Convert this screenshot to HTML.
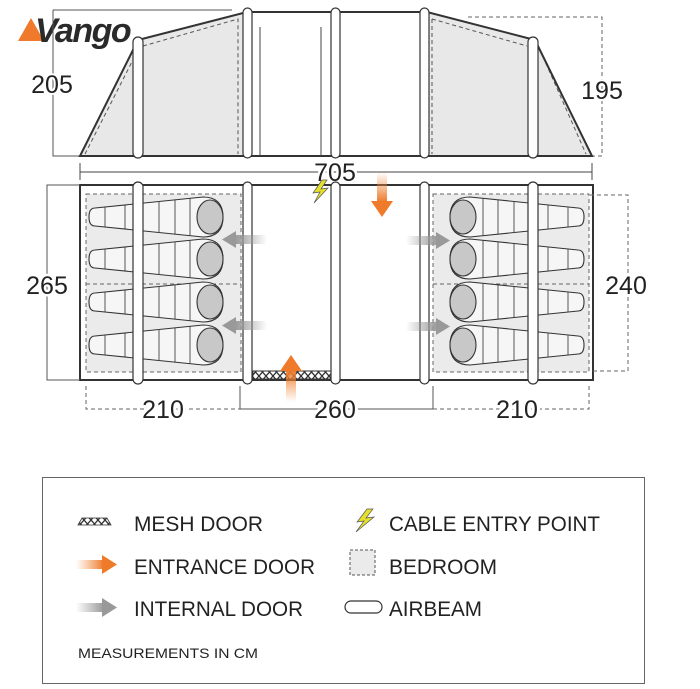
<!DOCTYPE html>
<html><head><meta charset="utf-8"><style>
html,body{margin:0;padding:0;background:#fff;}
svg{display:block;}
text{font-family:"Liberation Sans",sans-serif;fill:#222;}
</style></head><body>
<svg width="700" height="689" viewBox="0 0 700 689" xmlns="http://www.w3.org/2000/svg">
<defs>
<linearGradient id="og" x1="0" y1="0" x2="0" y2="1"><stop offset="0" stop-color="#f08a3c" stop-opacity="0"/><stop offset="1" stop-color="#ee7a2a"/></linearGradient>
<linearGradient id="ogu" x1="0" y1="1" x2="0" y2="0"><stop offset="0" stop-color="#f08a3c" stop-opacity="0"/><stop offset="1" stop-color="#ee7a2a"/></linearGradient>
<linearGradient id="ogr" x1="0" y1="0" x2="1" y2="0"><stop offset="0" stop-color="#f08a3c" stop-opacity="0"/><stop offset="1" stop-color="#ee7a2a"/></linearGradient>
<linearGradient id="gl" x1="1" y1="0" x2="0" y2="0"><stop offset="0" stop-color="#999" stop-opacity="0"/><stop offset="1" stop-color="#999"/></linearGradient>
<linearGradient id="gr" x1="0" y1="0" x2="1" y2="0"><stop offset="0" stop-color="#999" stop-opacity="0"/><stop offset="1" stop-color="#999"/></linearGradient>
<pattern id="mesh" width="7" height="8" patternUnits="userSpaceOnUse"><rect width="7" height="8" fill="#fff"/><path d="M0 0 L7 8 M7 0 L0 8" stroke="#333" stroke-width="1.3"/></pattern>
<g id="bagL">
<path d="M0 -9 Q-6 -9 -6 0 Q-6 9 0 9 L108 20 Q128 20 128 0 Q128 -20 108 -20 Z" fill="#f6f6f6" stroke="#333" stroke-width="1.1"/>
<path d="M10 -10V10 M30 -12V12 M48 -14V14 M64 -16V16 M80 -17V17 M95 -19V19" stroke="#444" stroke-width="0.9"/>
<ellipse cx="115" cy="0" rx="13" ry="17" fill="#c8c8c8" stroke="#333" stroke-width="1.1"/>
</g>
</defs>

<!-- logo -->
<polygon points="18,41 31,18 44,41" fill="#ef7a2b"/>
<text x="35" y="42" font-size="34" font-weight="bold" font-style="italic" style="fill:#2a2a2a;letter-spacing:-1.5px">Vango</text>

<!-- side view -->
<path d="M53 10 H232 M53 10 V156 H80" stroke="#555" stroke-width="1" fill="none"/>
<path d="M468 17 H602 V156 H592" stroke="#666" stroke-width="1" stroke-dasharray="4,3" fill="none"/>
<polygon points="80,156 138,40 247,12 247,156" fill="#e8e8e8"/>
<polygon points="427,12 535,40 592,156 427,156" fill="#e8e8e8"/>
<rect x="252" y="12" width="170" height="144" fill="#fff"/>
<path d="M85 154 L138 50 M143 46 L238 19 V154 M432 19 L527 46 M540 50 L586 154 M432 19 V154" stroke="#555" stroke-dasharray="4,3" fill="none"/>
<path d="M80 156 L138 40 L247 12 H427 L535 40 L592 156 Z" fill="none" stroke="#333" stroke-width="2"/>
<path d="M260 27 V156 M321 27 V156" stroke="#444" stroke-width="1"/>
<g fill="#fff" stroke="#333" stroke-width="1.2">
<rect x="133" y="37" width="10" height="121" rx="5"/>
<rect x="243" y="8" width="9" height="150" rx="4.5"/>
<rect x="331" y="8" width="9" height="150" rx="4.5"/>
<rect x="420" y="8" width="9" height="150" rx="4.5"/>
<rect x="528" y="37" width="10" height="121" rx="5"/>
</g>
<text x="52" y="93" font-size="25" text-anchor="middle" style="paint-order:stroke;stroke:#fff;stroke-width:4">205</text>
<text x="602" y="99" font-size="25" text-anchor="middle" style="paint-order:stroke;stroke:#fff;stroke-width:4">195</text>

<!-- 705 -->
<path d="M80 163 V180 M592 163 V180 M80 172 H592" stroke="#444" stroke-width="1"/>
<text x="335" y="181" font-size="25" text-anchor="middle" style="paint-order:stroke;stroke:#fff;stroke-width:5">705</text>

<!-- plan view -->
<rect x="80" y="185" width="513" height="195" fill="#fff" stroke="#333" stroke-width="2"/>
<rect x="86" y="194" width="155" height="178" fill="#ebebeb" stroke="#666" stroke-dasharray="4,3"/>
<line x1="86" y1="284" x2="241" y2="284" stroke="#666" stroke-dasharray="4,3"/>
<rect x="433" y="194" width="156" height="178" fill="#ebebeb" stroke="#666" stroke-dasharray="4,3"/>
<line x1="433" y1="284" x2="589" y2="284" stroke="#666" stroke-dasharray="4,3"/>
<g transform="translate(95,217)"><use href="#bagL"/></g>
<g transform="translate(95,259)"><use href="#bagL"/></g>
<g transform="translate(95,302)"><use href="#bagL"/></g>
<g transform="translate(95,345)"><use href="#bagL"/></g>
<g transform="translate(578,217) scale(-1,1)"><use href="#bagL"/></g>
<g transform="translate(578,259) scale(-1,1)"><use href="#bagL"/></g>
<g transform="translate(578,302) scale(-1,1)"><use href="#bagL"/></g>
<g transform="translate(578,345) scale(-1,1)"><use href="#bagL"/></g>
<rect x="253" y="371" width="78" height="8" fill="url(#mesh)" stroke="#333"/>
<g fill="#fff" stroke="#333" stroke-width="1.2">
<rect x="133" y="182" width="10" height="202" rx="5"/>
<rect x="243" y="182" width="9" height="202" rx="4.5"/>
<rect x="331" y="182" width="9" height="202" rx="4.5"/>
<rect x="420" y="182" width="9" height="202" rx="4.5"/>
<rect x="528" y="182" width="10" height="202" rx="5"/>
</g>
<!-- arrows -->
<rect x="377" y="172" width="10" height="30" fill="url(#og)"/><polygon points="371,201 393,201 382,217" fill="#ee7a2a"/>
<rect x="286" y="370" width="10" height="32" fill="url(#ogu)"/><polygon points="280,371 302,371 291,355" fill="#ee7a2a"/>
<rect x="235" y="235" width="32" height="9" fill="url(#gl)"/><polygon points="236,231 236,248 222,239.5" fill="#999"/>
<rect x="235" y="321" width="32" height="9" fill="url(#gl)"/><polygon points="236,317 236,334 222,325.5" fill="#999"/>
<rect x="406" y="236" width="32" height="9" fill="url(#gr)"/><polygon points="436,232 436,249 450,240.5" fill="#999"/>
<rect x="406" y="322" width="32" height="9" fill="url(#gr)"/><polygon points="436,318 436,335 450,326.5" fill="#999"/>
<polygon points="322,180 313,193 320,192 314,203 328,188 321,189 327,180" fill="#e5e02a" stroke="#555" stroke-width="0.7"/>

<!-- dims -->
<path d="M80 185 H47 V380 H80" stroke="#555" fill="none"/>
<text x="47" y="294" font-size="25" text-anchor="middle" style="paint-order:stroke;stroke:#fff;stroke-width:5">265</text>
<path d="M590 195 H628 V371 H590" stroke="#666" stroke-dasharray="4,3" fill="none"/>
<text x="626" y="294" font-size="25" text-anchor="middle" style="paint-order:stroke;stroke:#fff;stroke-width:5">240</text>
<path d="M86 386 V409 H240" stroke="#666" stroke-dasharray="4,3" fill="none"/>
<path d="M240 386 V409 H433 V386" stroke="#555" fill="none"/>
<path d="M433 409 H589 V386" stroke="#666" stroke-dasharray="4,3" fill="none"/>
<text x="163" y="418" font-size="25" text-anchor="middle" style="paint-order:stroke;stroke:#fff;stroke-width:6">210</text>
<text x="335" y="418" font-size="25" text-anchor="middle" style="paint-order:stroke;stroke:#fff;stroke-width:6">260</text>
<text x="517" y="418" font-size="25" text-anchor="middle" style="paint-order:stroke;stroke:#fff;stroke-width:6">210</text>

<!-- legend -->
<rect x="42.5" y="477.5" width="602" height="206" fill="#fff" stroke="#666"/>
<polygon points="78,525 82,518 107,518 111,525" fill="url(#mesh)" stroke="#333" stroke-width="0.8"/>
<text x="134" y="531" font-size="21" textLength="129" lengthAdjust="spacingAndGlyphs">MESH DOOR</text>
<rect x="76" y="560" width="28" height="9" fill="url(#ogr)"/><polygon points="102,555 102,574 117,564.5" fill="#ee7a2a"/>
<text x="134" y="574" font-size="21" textLength="181" lengthAdjust="spacingAndGlyphs">ENTRANCE DOOR</text>
<rect x="76" y="603" width="28" height="9" fill="url(#gr)"/><polygon points="102,598 102,617 117,607.5" fill="#999"/>
<text x="134" y="616" font-size="21" textLength="169" lengthAdjust="spacingAndGlyphs">INTERNAL DOOR</text>
<text x="78" y="658" font-size="14" textLength="180" lengthAdjust="spacingAndGlyphs">MEASUREMENTS IN CM</text>
<polygon points="367,509 357,522 364,521 356,532 374,517 366,518 373,509" fill="#e5e02a" stroke="#555" stroke-width="0.7"/>
<text x="389" y="531" font-size="21" textLength="211" lengthAdjust="spacingAndGlyphs">CABLE ENTRY POINT</text>
<rect x="350" y="550" width="25" height="25" fill="#ebebeb" stroke="#555" stroke-dasharray="3,2"/>
<text x="389" y="574" font-size="21" textLength="108" lengthAdjust="spacingAndGlyphs">BEDROOM</text>
<rect x="345" y="601" width="37" height="12" rx="6" fill="#fff" stroke="#333" stroke-width="1.2"/>
<text x="389" y="616" font-size="21" textLength="93" lengthAdjust="spacingAndGlyphs">AIRBEAM</text>
</svg>
</body></html>
